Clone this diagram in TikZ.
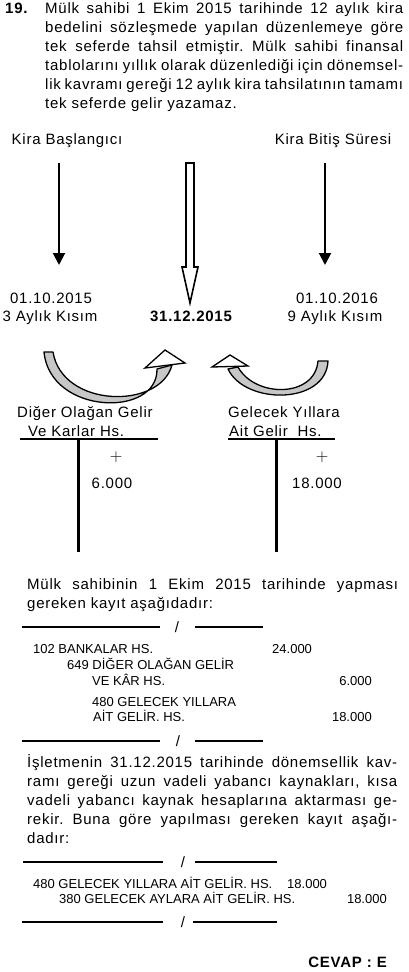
\documentclass[tikz,border=0pt]{standalone}
\usepackage{fontspec}
\setmainfont{Liberation Sans}
\newfontfamily\govde[LetterSpace=5]{Liberation Sans}
\usetikzlibrary{arrows.meta}
\newcommand{\satir}[2]{\makebox[#1][s]{#2}}
\frenchspacing

\begin{document}
\begin{tikzpicture}[x=1pt, y=-1pt,
		metin/.style = {font=\govde\fontsize{15}{19}\selectfont, inner sep=0},
		kalin/.style = {font=\govde\bfseries\fontsize{15}{19}\selectfont, inner sep=0},
		kayit/.style = {font=\fontsize{13}{15}\selectfont, inner sep=0, anchor=base west},
		ok/.style = {-{Triangle[width=12pt, length=12pt]}, line width=2pt},
		cizgi/.style = {line width=2.3pt},
		bant/.style = {draw=black, fill=black!22, line width=1.3pt, line join=round},
		okbas/.style = {draw=black, fill=white, line width=1.3pt, line join=miter}
		]
	\useasboundingbox (0,0) rectangle (408,972);
	
	%Soru (base = son satir)
	\node[kalin, anchor=base west]	(no)	at	(5,13)	{19.};
	\node[metin, anchor=base west, align=left]	(soru)	at	(45,108)	{%
		\satir{358pt}{Mülk sahibi 1 Ekim 2015 tarihinde 12 aylık kira}\\
		\satir{358pt}{bedelini sözleşmede yapılan düzenlemeye göre}\\
		\satir{358pt}{tek seferde tahsil etmiştir. Mülk sahibi finansal}\\
		\satir{358pt}{tablolarını yıllık olarak düzenlediği için dönemsel-}\\
		\satir{358pt}{lik kavramı gereği 12 aylık kira tahsilatının tamamı}\\
		tek seferde gelir yazamaz.};
	
	%Zaman cizelgesi
	\node[metin, anchor=base]	(bas)	at	(67,144)	{Kira Başlangıcı};
	\node[metin, anchor=base]	(bit)	at	(333,144)	{Kira Bitiş Süresi};
	\node[metin, anchor=base]	(t1)	at	(51,303)	{01.10.2015};
	\node[metin, anchor=base]	(k1)	at	(50,321)	{3 Aylık Kısım};
	\node[kalin, anchor=base]	(t2)	at	(191,321)	{31.12.2015};
	\node[metin, anchor=base]	(t3)	at	(337,303)	{01.10.2016};
	\node[metin, anchor=base]	(k3)	at	(335,321)	{9 Aylık Kısım};
	
	\coordinate	(o1)	at	(59,163);
	\coordinate	(o1u)	at	(59,265);
	\coordinate	(o3)	at	(325,163);
	\coordinate	(o3u)	at	(325,265);
	\draw[ok]	(o1)	--	(o1u);
	\draw[ok]	(o3)	--	(o3u);
	\draw[line width=1.6pt, line join=miter]	(186,163) -- (194,163) -- (194,267) -- (198,267) -- (190,303) -- (182,267) -- (186,267) -- cycle;
	
	%Kivrik oklar
	\draw[bant]	(44,352) .. controls (50,415) and (158,418) .. (157,369) -- (172,365) .. controls (160,410) and (62,408) .. (53,352) -- cycle;
	\draw[okbas]	(145,368) -- (165,350) -- (185,363) -- cycle;
	\draw[bant]	(328,361) .. controls (326,405) and (245,405) .. (228,369) -- (238,367) .. controls (255,398) and (315,398) .. (318,361) -- cycle;
	\draw[okbas]	(212,367) -- (230,355) -- (248,366) -- cycle;
	
	%Hesaplar
	\node[metin, anchor=base west]	(h1a)	at	(17,417)	{Diğer Olağan Gelir};
	\node[metin, anchor=base west]	(h1b)	at	(28,436)	{Ve Karlar Hs.};
	\node[metin, anchor=base west]	(h2a)	at	(228,417)	{Gelecek Yıllara};
	\node[metin, anchor=base west]	(h2b)	at	(229,436)	{Ait Gelir~ Hs.};
	\draw[cizgi]	(20,439) -- (158,439);
	\draw[line width=3pt]	(78,439) -- (78,552);
	\draw[cizgi]	(228,439) -- (335,439);
	\draw[line width=3pt]	(276,439) -- (276,552);
	\node	(a1)	at	(116,457)	{\fontsize{19}{19}\selectfont$+$};
	\node	(a2)	at	(322,457)	{\fontsize{19}{19}\selectfont$+$};
	\node[metin, anchor=base]	(v1)	at	(112,488)	{6.000};
	\node[metin, anchor=base]	(v2)	at	(317,488)	{18.000};
	
	%Ilk kayit
	\node[metin, anchor=base west, align=left]	(p2)	at	(27,608)	{%
		\satir{371pt}{Mülk sahibinin 1 Ekim 2015 tarihinde yapması}\\
		gereken kayıt aşağıdadır:};
	\draw[cizgi]	(22,627) -- (160,627);
	\node[metin]	(s1)	at	(177,627)	{/};
	\draw[cizgi]	(195,627) -- (263,627);
	\node[kayit]	(r1)	at	(33,653)	{102 BANKALAR HS.};
	\node[kayit]	(r1t)	at	(272,653)	{24.000};
	\node[kayit]	(r2)	at	(67,669)	{649 DİĞER OLAĞAN GELİR};
	\node[kayit]	(r3)	at	(92,685)	{VE KÂR HS.};
	\node[kayit, anchor=base east]	(r3t)	at	(372,685)	{6.000};
	\node[kayit]	(r4)	at	(92,706)	{480 GELECEK YILLARA};
	\node[kayit]	(r5)	at	(93,721)	{AİT GELİR. HS.};
	\node[kayit, anchor=base east]	(r5t)	at	(372,721)	{18.000};
	\draw[cizgi]	(22,741) -- (160,741);
	\node[metin]	(s2)	at	(178,741)	{/};
	\draw[cizgi]	(195,741) -- (263,741);
	
	%Ikinci kayit
	\node[metin, anchor=base west, align=left]	(p3)	at	(27,843)	{%
		\satir{370pt}{İşletmenin 31.12.2015 tarihinde dönemsellik kav-}\\
		\satir{370pt}{ramı gereği uzun vadeli yabancı kaynakları, kısa}\\
		\satir{370pt}{vadeli yabancı kaynak hesaplarına aktarması ge-}\\
		\satir{370pt}{rekir. Buna göre yapılması gereken kayıt aşağı-}\\
		dadır:};
	\draw[cizgi]	(23,862) -- (163,862);
	\node[metin]	(s3)	at	(183,862)	{/};
	\draw[cizgi]	(195,862) -- (277,862);
	\node[kayit]	(q1)	at	(33,888)	{480 GELECEK YILLARA AİT GELİR. HS.};
	\node[kayit]	(q1t)	at	(287,888)	{18.000};
	\node[kayit]	(q2)	at	(59,903)	{380 GELECEK AYLARA AİT GELİR. HS.};
	\node[kayit, anchor=base east]	(q2t)	at	(387,903)	{18.000};
	\draw[cizgi]	(22,922) -- (163,922);
	\node[metin]	(s4)	at	(183,922)	{/};
	\draw[cizgi]	(193,922) -- (277,922);
	
	\node[kalin, anchor=base east]	(cevap)	at	(387,967)	{CEVAP : E};
\end{tikzpicture}
\end{document}
